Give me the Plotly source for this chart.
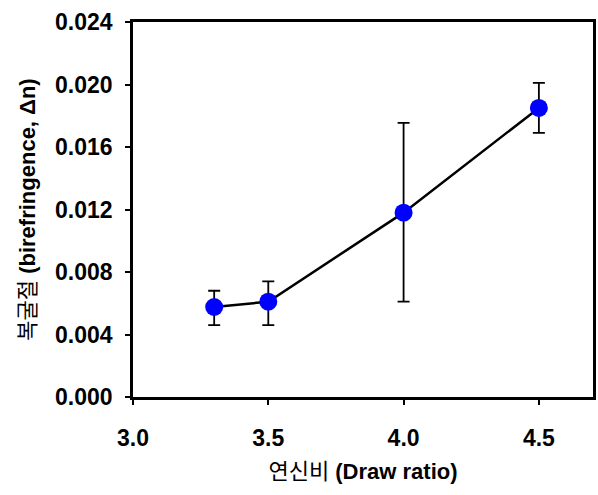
import plotly.graph_objects as go

draw_ratio = [3.3, 3.5, 4.0, 4.5]
birefringence = [0.00576, 0.0061, 0.0118, 0.0185]
err_plus = [0.00104, 0.0013, 0.00574, 0.0016]
err_minus = [0.00116, 0.0015, 0.0057, 0.0016]
x_ticks = [3.0, 3.5, 4.0, 4.5]
y_ticks = [0.000, 0.004, 0.008, 0.012, 0.016, 0.020, 0.024]

font_fam = "Liberation Sans, Arial, Noto Sans CJK KR, sans-serif"

fig = go.Figure()
fig.add_trace(go.Scatter(
    x=draw_ratio, y=birefringence, mode="lines+markers",
    line=dict(color="black", width=2.5),
    marker=dict(color="#0000ff", size=18, line=dict(width=0)),
    error_y=dict(type="data", symmetric=False, array=err_plus, arrayminus=err_minus,
                 color="black", thickness=1.8, width=6),
))

fig.update_layout(
    width=598, height=495,
    margin=dict(l=133, r=2, t=22, b=98),
    paper_bgcolor="white", plot_bgcolor="white",
    showlegend=False,
    font=dict(family=font_fam, color="black", size=22),
)
fig.update_xaxes(
    range=[3.0, 4.7], tickvals=x_ticks, ticktext=[f"{v:.1f}" for v in x_ticks],
    showgrid=False, zeroline=False, showline=True, linecolor="black", linewidth=2.5,
    mirror=True, ticks="outside", ticklen=5, tickwidth=2, tickcolor="black",
    ticklabelstandoff=14,
    tickfont=dict(size=23, family=font_fam, weight="bold"),
    title=dict(text="연신비 <b>(Draw ratio)</b>", font=dict(size=22, family=font_fam), standoff=14),
)
fig.update_yaxes(
    range=[0, 0.024], tickvals=y_ticks, ticktext=[f"{v:.3f}" for v in y_ticks],
    showgrid=False, zeroline=False, showline=True, linecolor="black", linewidth=2.5,
    mirror=True, ticks="outside", ticklen=5, tickwidth=2, tickcolor="black",
    ticklabelstandoff=8,
    tickfont=dict(size=23, family=font_fam, weight="bold"),
    title=dict(text="복굴절 <b>(birefringence, Δn)</b>", font=dict(size=22, family=font_fam), standoff=14),
)

fig.write_html("out.html")
